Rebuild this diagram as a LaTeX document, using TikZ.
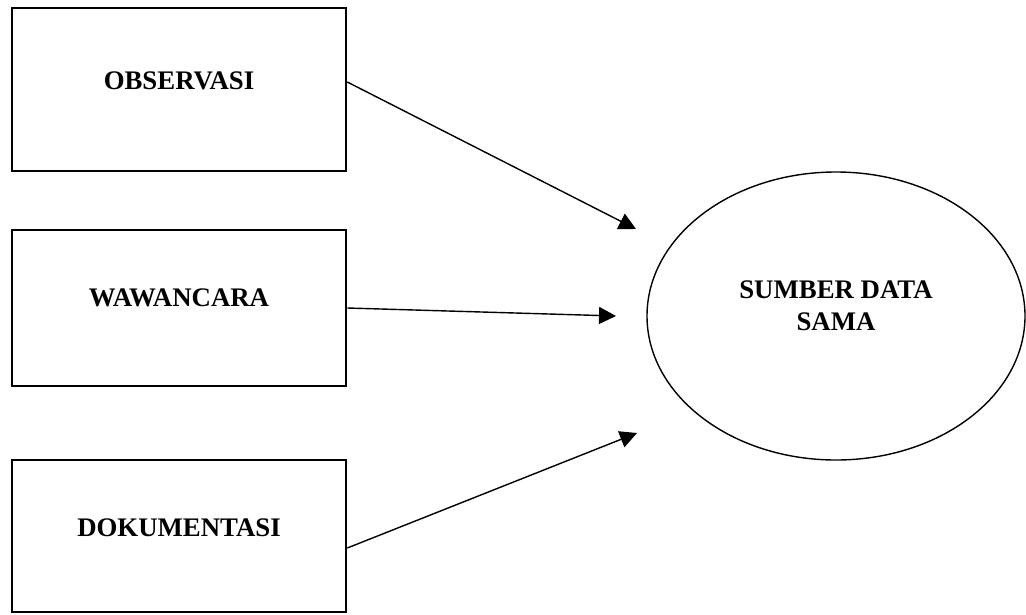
\documentclass[tikz,border=0pt]{standalone}
\usepackage{fontspec}
\setmainfont{Liberation Serif}
\usetikzlibrary{positioning,arrows.meta,calc,shapes.geometric}

\begin{document}
\begin{tikzpicture}[x=1pt,y=-1pt,
   box/.style={draw,line width=2.6pt,minimum width=334pt,minimum height=160pt,inner sep=0pt},
   lbl/.style={font=\fontsize{26.8}{32}\selectfont\bfseries,align=center},
   arr/.style={line width=1.4pt,-{Triangle[length=17pt,width=17pt]}}]
  \useasboundingbox (0,0) rectangle (1026,614);
  % sources
  \node[box,minimum height=163pt,label={[lbl,yshift=9pt]center:OBSERVASI}] (obs) at (179,89.5) {};
  \node[box,minimum height=156pt,label={[lbl,yshift=10pt]center:WAWANCARA}] (waw) at (179,308) {};
  \node[box,minimum height=152pt,label={[lbl,yshift=8pt]center:DOKUMENTASI}] (dok) at (179,536) {};
  % target
  \node[draw,ellipse,line width=1.4pt,minimum width=378pt,minimum height=288pt,inner sep=0pt] (sum) at (836,316) {};
  \node[lbl] (sumtxt) at (836,306) {SUMBER DATA\\SAMA};
  \coordinate (t1) at (636,229);
  \coordinate (t2) at (616,316);
  \coordinate (t3) at (637,433);
  \draw[arr] ($(obs.east)+(0,-7.5)$) -- (t1);
  \draw[arr] (waw.east) -- (t2);
  \draw[arr] ($(dok.east)+(0,12)$) -- (t3);
\end{tikzpicture}
\end{document}
